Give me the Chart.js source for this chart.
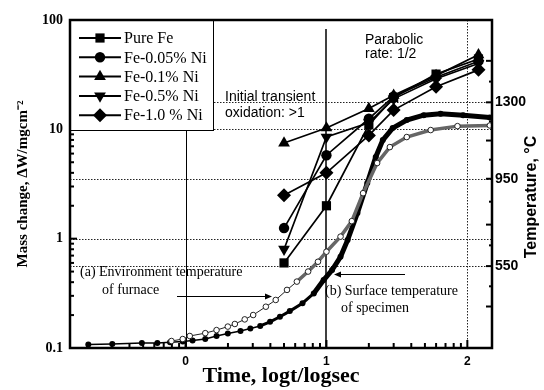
<!DOCTYPE html>
<html>
<head>
  <title>Mass change and temperature vs log time</title>
  <script src="https://cdn.jsdelivr.net/npm/chart.js"></script>
  <style>
    body { margin: 0; background: #fff; }
    #wrap { width: 544px; height: 390px; }
  </style>
</head>
<body>
  <div id="wrap"><canvas id="chart"></canvas></div>

  <script>
    const SERIF = "'Liberation Serif', 'Times New Roman', serif";
    const SANS = "'Liberation Sans', Arial, sans-serif";

    // mass change (mg/cm2), read at t = 5, 10, 20, 30, 60, 120 s
    const logTime = [0.699, 1.0, 1.301, 1.477, 1.778, 2.079];
    const pureFe = [0.6, 2.0, 11, 19.5, 32, 44];
    const fe005Ni = [1.25, 5.8, 12.5, 20, 30, 42];
    const fe01Ni = [7.5, 10.3, 15.5, 20.5, 31, 48];
    const fe05Ni = [0.8, 8.5, 11.5, 19, 29, 40];
    const fe10Ni = [2.5, 4.0, 8.8, 15, 24.5, 35];
    const seriesNames = ['Pure Fe', 'Fe-0.05% Ni', 'Fe-0.1% Ni', 'Fe-0.5% Ni', 'Fe-1.0 % Ni'];

    // temperature curves (deg C)
    const specimenX = [-0.69, -0.52, -0.31, -0.20, -0.11, -0.02, 0.05, 0.14, 0.22, 0.30, 0.39, 0.46,
                       0.53, 0.60, 0.67, 0.74, 0.83, 0.91, 0.98, 1.04, 1.10, 1.15, 1.22, 1.29,
                       1.35, 1.40, 1.47, 1.57, 1.69, 1.81, 1.97, 2.16];
    const specimenT = [191, 193, 198, 198, 201, 205, 209, 216, 230, 241, 253, 264,
                       276, 295, 318, 344, 380, 425, 486, 532, 593, 669, 793, 931,
                       1050, 1127, 1182, 1219, 1241, 1248, 1241, 1230];
    const furnaceX = [-0.10, -0.02, 0.03, 0.14, 0.22, 0.30, 0.35, 0.42, 0.48, 0.57, 0.64, 0.72,
                      0.79, 0.87, 0.94, 1.00, 1.10, 1.18, 1.26, 1.36, 1.45, 1.57, 1.74, 1.93, 2.16];
    const furnaceT = [207, 216, 230, 243, 257, 273, 285, 306, 326, 364, 395, 441,
                      479, 525, 570, 616, 685, 756, 884, 1022, 1095, 1141, 1173, 1191, 1194];

    const xTicks = [0, 1, 2];
    const massTicks = [0.1, 1, 10, 100];
    const tempTicks = [550, 950, 1300];
    const tempMarks = [365, 550, 740, 950, 1125, 1300, 1490];

    // marker look for the five alloys
    const markers = [
      { pointStyle: 'rect', radius: 6.5, rotation: 0 },
      { pointStyle: 'circle', radius: 5.2, rotation: 0 },
      { pointStyle: 'triangle', radius: 6.8, rotation: 0 },
      { pointStyle: 'triangle', radius: 6.8, rotation: 180 },
      { pointStyle: 'rectRot', radius: 7, rotation: 0 }
    ];

    const notes = [
      { text: 'Parabolic', x: 365, y: 40, font: '14px ' + SANS },
      { text: 'rate: 1/2', x: 365, y: 54, font: '14px ' + SANS },
      { text: 'Initial transient', x: 225, y: 97, font: '14px ' + SANS },
      { text: 'oxidation: >1', x: 225, y: 113, font: '14px ' + SANS },
      { text: '(a) Environment temperature', x: 80, y: 272, font: '14px ' + SERIF },
      { text: 'of furnace', x: 102, y: 290, font: '14px ' + SERIF },
      { text: '(b) Surface temperature', x: 325, y: 291, font: '14px ' + SERIF },
      { text: 'of specimen', x: 341, y: 308, font: '14px ' + SERIF }
    ];
    const arrows = [
      { from: 177, to: 272, y: 296 },
      { from: 405, to: 334, y: 274 }
    ];

    const massSets = [pureFe, fe005Ni, fe01Ni, fe05Ni, fe10Ni].map((vals, i) => ({
      label: seriesNames[i],
      data: logTime.map((x, j) => ({ x: x, y: vals[j] })),
      yAxisID: 'y',
      showLine: true,
      borderColor: '#000',
      backgroundColor: '#000',
      borderWidth: 1.7,
      pointStyle: markers[i].pointStyle,
      pointRotation: markers[i].rotation,
      pointRadius: markers[i].radius,
      pointBorderWidth: 0,
      order: 0
    }));

    const specimenSet = {
      label: 'Surface temperature',
      data: specimenX.map((x, i) => ({ x: x, y: specimenT[i] })),
      yAxisID: 'y2',
      showLine: true,
      borderColor: '#000',
      backgroundColor: '#000',
      borderWidth: 1.5,
      segment: { borderWidth: c => c.p0.parsed.x > 0.85 ? 5 : (c.p0.parsed.x > 0.5 ? 3 : 1.5) },
      pointRadius: 3,
      pointBorderWidth: 0,
      order: 2
    };
    const furnaceSet = {
      label: 'Environment temperature',
      data: furnaceX.map((x, i) => ({ x: x, y: furnaceT[i] })),
      yAxisID: 'y2',
      showLine: true,
      borderColor: '#222',
      backgroundColor: '#fff',
      borderWidth: 1,
      segment: { borderWidth: c => c.p0.parsed.x > 0.75 ? 3.5 : 1, borderColor: c => c.p0.parsed.x > 0.75 ? '#666' : '#222' },
      pointRadius: 2.8,
      pointBorderWidth: 1,
      order: 1
    };

    function logMinors(lo, hi) {
      const out = [];
      for (let n = -2; n <= 3; n++) {
        for (let k = 2; k <= 9; k++) {
          const v = n + Math.log10(k);
          if (v > lo && v < hi) out.push(v);
        }
      }
      return out;
    }

    const decor = {
      id: 'decor',
      beforeDatasetsDraw(chart) {
        const { ctx, chartArea: a, scales } = chart;
        const sx = scales.x, sy = scales.y, st = scales.y2;
        ctx.save();
        ctx.strokeStyle = '#222';
        ctx.lineWidth = 1;
        ctx.setLineDash([1.5, 1.5]);
        [1, 10].forEach(v => {
          const y = Math.round(sy.getPixelForValue(v)) + 0.5;
          ctx.beginPath(); ctx.moveTo(a.left, y); ctx.lineTo(a.right, y); ctx.stroke();
        });
        tempTicks.forEach(v => {
          const y = Math.round(st.getPixelForValue(v)) + 0.5;
          ctx.beginPath(); ctx.moveTo(a.left, y); ctx.lineTo(a.right, y); ctx.stroke();
        });
        const x2 = Math.round(sx.getPixelForValue(2)) + 0.5;
        ctx.beginPath(); ctx.moveTo(x2, a.top); ctx.lineTo(x2, a.bottom); ctx.stroke();
        ctx.setLineDash([]);
        ctx.strokeStyle = '#000';
        const x0 = Math.round(sx.getPixelForValue(0)) + 0.5;
        ctx.beginPath(); ctx.moveTo(x0, a.top); ctx.lineTo(x0, a.bottom); ctx.stroke();
        const x1 = Math.round(sx.getPixelForValue(1));
        ctx.lineWidth = 1.5;
        ctx.beginPath(); ctx.moveTo(x1, a.top + 9); ctx.lineTo(x1, a.bottom); ctx.stroke();

        // inward tick marks
        ctx.lineWidth = 2;
        xTicks.forEach(v => {
          const x = sx.getPixelForValue(v);
          ctx.beginPath(); ctx.moveTo(x, a.bottom); ctx.lineTo(x, a.bottom - 8); ctx.stroke();
        });
        logMinors(sx.min, sx.max).forEach(v => {
          const x = sx.getPixelForValue(v);
          ctx.beginPath(); ctx.moveTo(x, a.bottom); ctx.lineTo(x, a.bottom - 5); ctx.stroke();
        });
        logMinors(-1, 2).forEach(v => {
          const y = sy.getPixelForValue(Math.pow(10, v));
          ctx.beginPath(); ctx.moveTo(a.left, y); ctx.lineTo(a.left + 4, y); ctx.stroke();
        });
        massTicks.forEach(v => {
          const y = sy.getPixelForValue(v);
          ctx.beginPath(); ctx.moveTo(a.left, y); ctx.lineTo(a.left + 7, y); ctx.stroke();
        });
        tempMarks.forEach((v, i) => {
          const y = st.getPixelForValue(v);
          ctx.beginPath(); ctx.moveTo(a.right, y); ctx.lineTo(a.right - 6, y); ctx.stroke();
          if (i > 0) {
            const ym = st.getPixelForValue((v + tempMarks[i - 1]) / 2);
            ctx.beginPath(); ctx.moveTo(a.right, ym); ctx.lineTo(a.right - 3, ym); ctx.stroke();
          }
        });
        ctx.restore();
      },
      afterDatasetsDraw(chart) {
        const { ctx, chartArea: a } = chart;
        ctx.save();

        // legend box
        const lw = 143, lh = 110;
        ctx.fillStyle = '#fff';
        ctx.fillRect(a.left, a.top, lw, lh);
        ctx.strokeStyle = '#000';
        ctx.lineWidth = 1;
        ctx.strokeRect(a.left + 0.5, a.top + 0.5, lw, lh);
        ctx.font = '16px ' + SERIF;
        ctx.textBaseline = 'middle';
        ctx.textAlign = 'left';
        seriesNames.forEach((name, i) => {
          const y = a.top + 18 + i * 19.3;
          ctx.strokeStyle = '#000';
          ctx.lineWidth = 2;
          ctx.beginPath(); ctx.moveTo(a.left + 9, y); ctx.lineTo(a.left + 51, y); ctx.stroke();
          ctx.fillStyle = '#000';
          Chart.helpers.drawPoint(ctx, { pointStyle: markers[i].pointStyle, rotation: markers[i].rotation,
            radius: markers[i].radius, borderWidth: 0 }, a.left + 30, y);
          ctx.fillStyle = '#000';
          ctx.fillText(name, a.left + 54, y + 1);
        });

        // notes and arrows
        ctx.fillStyle = '#000';
        notes.forEach(n => {
          ctx.font = n.font;
          ctx.fillText(n.text, n.x, n.y);
        });
        ctx.lineWidth = 1;
        arrows.forEach(ar => {
          const dir = ar.to > ar.from ? 1 : -1;
          ctx.beginPath(); ctx.moveTo(ar.from, ar.y + 0.5); ctx.lineTo(ar.to - dir * 5, ar.y + 0.5); ctx.stroke();
          ctx.beginPath();
          ctx.moveTo(ar.to, ar.y + 0.5);
          ctx.lineTo(ar.to - dir * 7, ar.y - 2.5);
          ctx.lineTo(ar.to - dir * 7, ar.y + 3.5);
          ctx.closePath(); ctx.fill();
        });

        // frame
        ctx.lineWidth = 2.5;
        ctx.strokeRect(a.left, a.top, a.right - a.left, a.bottom - a.top);

        // right axis title, reads bottom to top
        ctx.translate(532, 197);
        ctx.rotate(-Math.PI / 2);
        ctx.font = 'bold 16px ' + SANS;
        ctx.textAlign = 'center';
        ctx.fillText('Temperature, \u00B0C', 0, 0);
        ctx.restore();
      }
    };

    const ctx = document.getElementById('chart').getContext('2d');
    const chart = new Chart(ctx, {
      type: 'scatter',
      data: { datasets: [...massSets, furnaceSet, specimenSet] },
      options: {
        responsive: true,
        maintainAspectRatio: false,
        animation: false,
        layout: { padding: { top: 20, left: 0, right: 0, bottom: 0 } },
        plugins: { legend: { display: false }, tooltip: { enabled: false } },
        scales: {
          x: {
            type: 'linear',
            min: -0.82,
            max: 2.175,
            grid: { display: false, drawTicks: false },
            border: { display: false },
            afterBuildTicks: s => { s.ticks = xTicks.map(v => ({ value: v })); },
            afterFit: s => { s.height = 42; },
            ticks: {
              padding: 6,
              color: '#000',
              font: { family: SANS, size: 12, weight: 'bold' },
              callback: v => String(v)
            },
            title: {
              display: true,
              text: 'Time, logt/logsec',
              color: '#000',
              font: { family: SERIF, size: 22, weight: 'bold' },
              padding: { top: 0, bottom: 0 }
            }
          },
          y: {
            type: 'logarithmic',
            position: 'left',
            min: 0.1,
            max: 100,
            grid: { display: false, drawTicks: false },
            border: { display: false },
            afterBuildTicks: s => { s.ticks = massTicks.map(v => ({ value: v })); },
            afterFit: s => { s.width = 70; },
            ticks: {
              padding: 7,
              color: '#000',
              font: { family: SERIF, size: 14, weight: 'bold' },
              callback: v => String(v)
            },
            title: {
              display: true,
              text: 'Mass change, \u0394W/mgcm\u207B\u00B2',
              color: '#000',
              font: { family: SERIF, size: 15, weight: 'bold' },
              padding: { top: 14, bottom: 0 }
            }
          },
          y2: {
            type: 'linear',
            position: 'right',
            min: 175,
            max: 1677,
            grid: { display: false, drawTicks: false },
            border: { display: false },
            afterBuildTicks: s => { s.ticks = tempTicks.map(v => ({ value: v })); },
            afterFit: s => { s.width = 52; },
            ticks: {
              padding: 3,
              color: '#000',
              font: { family: SANS, size: 14, weight: 'bold' },
              callback: v => String(v)
            }
          }
        }
      },
      plugins: [decor]
    });
  </script>
</body>
</html>
